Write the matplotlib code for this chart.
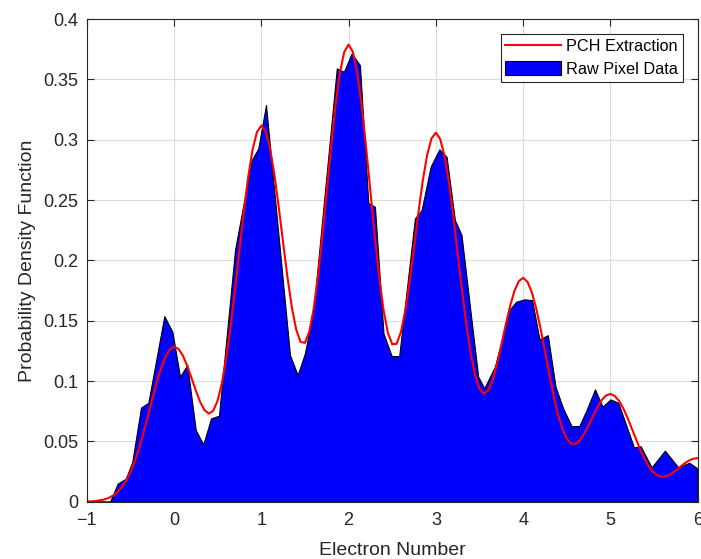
import matplotlib
matplotlib.use('Agg')
import matplotlib.pyplot as plt
import numpy as np

plt.rcParams['font.family'] = ['Liberation Sans', 'DejaVu Sans']

# raw pixel histogram (vertices)
raw_x = [-1.0, -0.733, -0.645, -0.553, -0.478, -0.378, -0.294, -0.111, -0.019,
         0.069, 0.152, 0.249, 0.336, 0.424, 0.515, 0.699, 0.89, 0.966, 1.054,
         1.329, 1.417, 1.50, 1.60, 1.865, 1.947, 2.035, 2.13, 2.226, 2.302,
         2.40, 2.494, 2.58, 2.76, 2.837, 2.94, 3.04, 3.123, 3.218, 3.294,
         3.485, 3.555, 3.677, 3.843, 3.92, 4.015, 4.103, 4.187, 4.283, 4.371,
         4.46, 4.555, 4.643, 4.727, 4.823, 4.91, 5.0, 5.09, 5.27, 5.346,
         5.472, 5.624, 5.777, 5.903, 5.995]
raw_y = [0.0, 0.0, 0.015, 0.019, 0.033, 0.078, 0.082, 0.1538, 0.1409,
         0.1036, 0.1133, 0.0594, 0.0475, 0.069, 0.0713, 0.2085, 0.283, 0.2928, 0.3287,
         0.1215, 0.105, 0.123, 0.16, 0.359, 0.3563, 0.3715, 0.3618, 0.2477, 0.2444,
         0.1395, 0.1207, 0.1207, 0.2348, 0.2417, 0.2776, 0.292, 0.2858, 0.2334, 0.221,
         0.1036, 0.094, 0.112, 0.159, 0.1657, 0.1677, 0.167, 0.1345, 0.138, 0.0953,
         0.077, 0.0627, 0.0627, 0.076, 0.0931, 0.0787, 0.0848, 0.082, 0.045, 0.046,
         0.0285, 0.0423, 0.0285, 0.0323, 0.0277]

# PCH extraction curve, sampled every 0.05 from -1 to 6
fit_x = np.linspace(-1, 6, 141)
fit_y = [0.0002, 0.0003, 0.0006, 0.0011, 0.0018, 0.0031, 0.0050, 0.0078, 0.0118, 0.0173,
         0.0245, 0.0335, 0.0444, 0.0569, 0.0705, 0.0846, 0.0982, 0.1103, 0.1198, 0.1259,
         0.1284, 0.1267, 0.1213, 0.1129, 0.1027, 0.0921, 0.0826, 0.0758, 0.0730, 0.0754,
         0.0838, 0.0986, 0.1196, 0.1460, 0.1764, 0.2087, 0.2404, 0.2690, 0.2917, 0.3062,
         0.3117, 0.3069, 0.2929, 0.2711, 0.2441, 0.2147, 0.1861, 0.1612, 0.1426, 0.1324,
         0.1316, 0.1408, 0.1597, 0.1869, 0.2204, 0.2574, 0.2945, 0.3283, 0.3552, 0.3726,
         0.3788, 0.3726, 0.3552, 0.3283, 0.2944, 0.2573, 0.2202, 0.1865, 0.1591, 0.1400,
         0.1305, 0.1308, 0.1406, 0.1585, 0.1828, 0.2107, 0.2394, 0.2660, 0.2872, 0.3010,
         0.3058, 0.3005, 0.2863, 0.2644, 0.2367, 0.2061, 0.1753, 0.1468, 0.1228, 0.1048,
         0.0936, 0.0895, 0.0922, 0.1008, 0.1138, 0.1297, 0.1464, 0.1619, 0.1746, 0.1827,
         0.1855, 0.1822, 0.1735, 0.1601, 0.1433, 0.1244, 0.1054, 0.0876, 0.0723, 0.0604,
         0.0523, 0.0482, 0.0479, 0.0508, 0.0563, 0.0633, 0.0710, 0.0782, 0.0842, 0.0880,
         0.0893, 0.0876, 0.0835, 0.0770, 0.0688, 0.0597, 0.0504, 0.0417, 0.0342, 0.0281,
         0.0239, 0.0214, 0.0207, 0.0214, 0.0233, 0.0259, 0.0289, 0.0318, 0.0341, 0.0356,
         0.0361]

x_ticks = [-1, 0, 1, 2, 3, 4, 5, 6]
y_ticks = [0, 0.05, 0.1, 0.15, 0.2, 0.25, 0.3, 0.35, 0.4]
y_tick_labels = ['0', '0.05', '0.1', '0.15', '0.2', '0.25', '0.3', '0.35', '0.4']

dark = '#262626'

fig = plt.figure(figsize=(7.01, 5.59), dpi=100)
ax = fig.add_axes([0.1237, 0.1025, 0.8716, 0.8635])

area = ax.fill_between(raw_x, raw_y, 0, facecolor='#0000ff', edgecolor='black',
                       linewidth=0.8, label='Raw Pixel Data')
line, = ax.plot(fit_x, fit_y, color='#ff0000', linewidth=1.5, label='PCH Extraction')

ax.set_xlim(-1, 6)
ax.set_ylim(0, 0.4)
ax.set_xticks(x_ticks)
ax.set_xticklabels(['\u22121'] + [str(t) for t in x_ticks[1:]])
ax.set_yticks(y_ticks)
ax.set_yticklabels(y_tick_labels)
ax.grid(True, color='#dcdcdc', linewidth=0.8)
ax.set_axisbelow(True)
ax.tick_params(direction='in', top=True, right=True, length=5, width=0.8,
               colors=dark, labelsize=13)
ax.tick_params(axis='x', pad=7.5)
ax.tick_params(axis='y', pad=6)
for s in ax.spines.values():
    s.set_color(dark)
    s.set_linewidth(0.8)
    s.set_zorder(5)

ax.set_xlabel('Electron Number', fontsize=14, color=dark, labelpad=9)
ax.set_ylabel('Probability Density Function', fontsize=14, color=dark, labelpad=5)

leg = ax.legend(handles=[line, area], loc='upper right', fontsize=11.7,
                fancybox=False, framealpha=1, edgecolor=dark,
                borderaxespad=0.9, handlelength=3.4, handleheight=1.0,
                handletextpad=0.35, borderpad=0.3, labelspacing=0.4)
leg.get_frame().set_linewidth(0.8)

fig.savefig('out.png', dpi=100)
